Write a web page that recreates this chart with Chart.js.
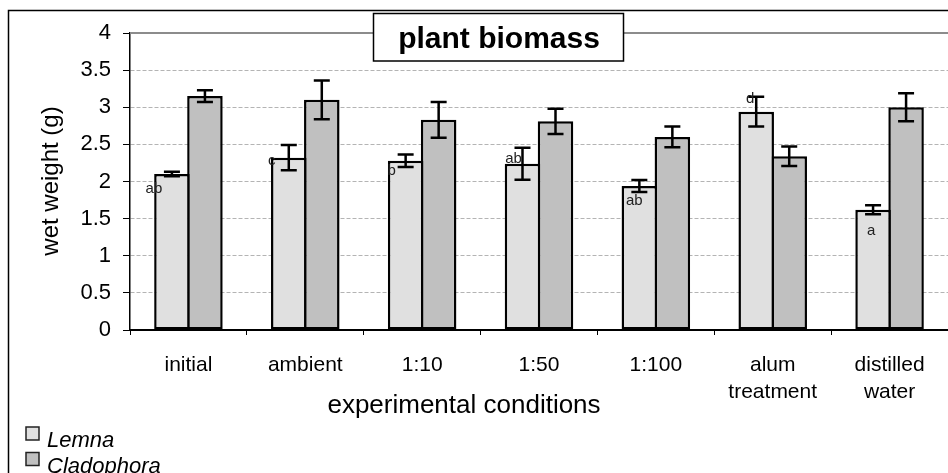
<!DOCTYPE html>
<html lang="en">
<head>
<meta charset="UTF-8">
<title>plant biomass</title>
<script src="https://cdn.jsdelivr.net/npm/chart.js"></script>
<style>
  body { margin: 0; background: #fff; }
  #wrap { width: 948px; height: 473px; overflow: hidden; }
</style>
</head>
<body>
<div id="wrap"><canvas id="biomassChart" width="948" height="473"></canvas></div>
<script>
// data
const conditions = ['initial', 'ambient', '1:10', '1:50', '1:100', ['alum', 'treatment'], ['distilled', 'water']];
const lemna      = [2.10, 2.32, 2.28, 2.24, 1.94, 2.94, 1.62];
const lemnaErr   = [0.03, 0.17, 0.085, 0.215, 0.08, 0.20, 0.06];
const cladophora = [3.15, 3.10, 2.83, 2.81, 2.60, 2.34, 3.00];
const cladErr    = [0.08, 0.26, 0.24, 0.17, 0.14, 0.13, 0.19];
const letters    = ['ab', 'c', 'b', 'ab', 'ab', 'd', 'a'];
const yTicks     = [0, 0.5, 1, 1.5, 2, 2.5, 3, 3.5, 4];

const FONT = '"Liberation Sans", Arial, sans-serif';

// where the significance letters sit relative to the Lemna bar top
const letterDx = [-18, -17, -14, -9, -5, -6, -2];
const letterDy = [15, 3, 10, -5, 15, -13, 21];

const decorPlugin = {
    id: 'decor',
    beforeDraw(chart) {
        const ctx = chart.ctx;
        ctx.save();
        ctx.strokeStyle = '#000';
        ctx.lineWidth = 1.5;
        ctx.beginPath();
        ctx.moveTo(8.5, 473);
        ctx.lineTo(8.5, 10.5);
        ctx.lineTo(948, 10.5);
        ctx.stroke();
        ctx.restore();
    },
    afterDatasetsDraw(chart) {
        const ctx = chart.ctx;
        const y = chart.scales.y;
        const errs = [lemnaErr, cladErr];
        ctx.save();
        ctx.strokeStyle = '#000';
        ctx.lineWidth = 2.5;
        chart.data.datasets.forEach((ds, i) => {
            chart.getDatasetMeta(i).data.forEach((bar, j) => {
                const top = y.getPixelForValue(ds.data[j] + errs[i][j]);
                const bot = y.getPixelForValue(ds.data[j] - errs[i][j]);
                ctx.beginPath();
                ctx.moveTo(bar.x, top); ctx.lineTo(bar.x, bot);
                ctx.moveTo(bar.x - 8, top); ctx.lineTo(bar.x + 8, top);
                ctx.moveTo(bar.x - 8, bot); ctx.lineTo(bar.x + 8, bot);
                ctx.stroke();
            });
        });
        // significance letters
        ctx.fillStyle = '#222';
        ctx.font = '15px ' + FONT;
        ctx.textAlign = 'center';
        ctx.textBaseline = 'middle';
        chart.getDatasetMeta(0).data.forEach((bar, j) => {
            ctx.fillText(letters[j], bar.x + letterDx[j], bar.y + letterDy[j]);
        });
        ctx.restore();
    },
    afterDraw(chart) {
        const ctx = chart.ctx;
        const area = chart.chartArea;
        ctx.save();
        // top frame of the plot
        ctx.strokeStyle = '#8c8c8c';
        ctx.lineWidth = 2;
        ctx.beginPath();
        ctx.moveTo(area.left, area.top);
        ctx.lineTo(area.right, area.top);
        ctx.stroke();

        // title box
        ctx.fillStyle = '#fff';
        ctx.fillRect(373.5, 13.5, 250, 47.5);
        ctx.strokeStyle = '#000';
        ctx.lineWidth = 1.5;
        ctx.strokeRect(373.5, 13.5, 250, 47.5);
        ctx.fillStyle = '#000';
        ctx.font = 'bold 30px ' + FONT;
        ctx.textAlign = 'center';
        ctx.textBaseline = 'alphabetic';
        ctx.fillText('plant biomass', 499, 48);

        // axis titles
        ctx.font = '26px ' + FONT;
        ctx.fillText('experimental conditions', 464, 413);
        ctx.save();
        ctx.translate(58, 181);
        ctx.rotate(-Math.PI / 2);
        ctx.font = '24px ' + FONT;
        ctx.fillText('wet weight (g)', 0, 0);
        ctx.restore();

        // legend, stacked at bottom left
        ctx.textAlign = 'left';
        ctx.font = 'italic 22px ' + FONT;
        chart.data.datasets.forEach((ds, i) => {
            const top = 427 + i * 25.5;
            ctx.fillStyle = ds.backgroundColor;
            ctx.fillRect(26, top, 13, 13);
            ctx.strokeStyle = '#222';
            ctx.lineWidth = 1.5;
            ctx.strokeRect(26, top, 13, 13);
            ctx.fillStyle = '#000';
            ctx.fillText(ds.label, 47, top + 20);
        });
        ctx.restore();
    }
};

const chart = new Chart(document.getElementById('biomassChart'), {
    type: 'bar',
    data: {
        labels: conditions,
        datasets: [{
            label: 'Lemna',
            data: lemna,
            backgroundColor: '#e0e0e0',
            borderColor: '#000',
            borderWidth: 2.5,
            borderSkipped: false
        }, {
            label: 'Cladophora',
            data: cladophora,
            backgroundColor: '#c0c0c0',
            borderColor: '#000',
            borderWidth: 2.5,
            borderSkipped: false
        }]
    },
    options: {
        responsive: false,
        animation: false,
        devicePixelRatio: 1,
        categoryPercentage: 0.565,
        barPercentage: 1.076,
        layout: { padding: { top: 33, left: 0, right: 0, bottom: 0 } },
        plugins: {
            legend: { display: false },
            title: { display: false },
            tooltip: { enabled: false }
        },
        scales: {
            x: {
                afterFit: (s) => { s.height = 143; },
                grid: {
                    drawOnChartArea: false,
                    tickLength: 5,
                    tickColor: '#000',
                    tickWidth: 1
                },
                border: { color: '#000', width: 2 },
                ticks: {
                    color: '#000',
                    padding: 17,
                    maxRotation: 0,
                    autoSkip: false,
                    font: { family: FONT, size: 21, lineHeight: 1.29 }
                }
            },
            y: {
                min: 0,
                max: 4,
                afterFit: (s) => { s.width = 130; },
                afterBuildTicks: (s) => { s.ticks = yTicks.map(v => ({ value: v })); },
                grid: {
                    color: (c) => (c.tick && (c.tick.value === 4 || c.tick.value === 0)) ? 'rgba(0,0,0,0)' : '#b4b4b4',
                    lineWidth: 1,
                    tickLength: 7,
                    tickColor: '#000',
                    tickWidth: 1,
                    tickBorderDash: []
                },
                border: { color: '#000', width: 1.5, dash: [4, 2] },
                ticks: {
                    color: '#000',
                    padding: 12,
                    font: { family: FONT, size: 22 },
                    callback: (v) => String(v)
                }
            }
        }
    },
    plugins: [decorPlugin]
});
</script>
</body>
</html>
